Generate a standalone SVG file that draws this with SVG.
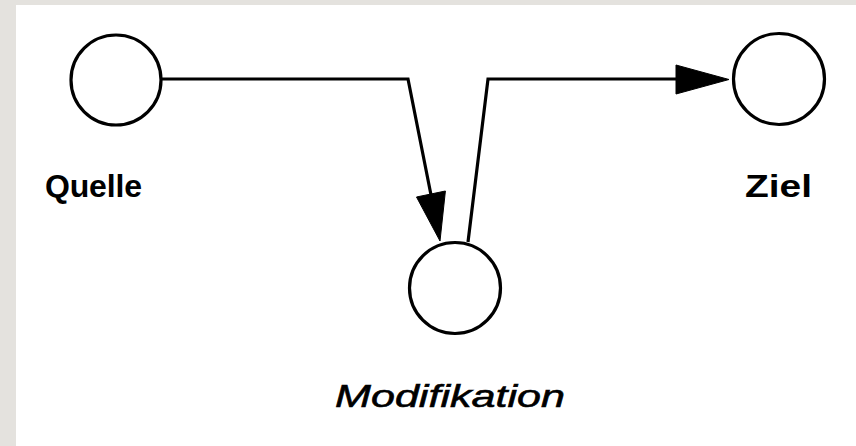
<svg xmlns="http://www.w3.org/2000/svg" width="856" height="446" viewBox="0 0 856 446">
  <style>
    .node circle { fill: #ffffff; stroke: #000000; stroke-width: 3.2; }
    .edge { fill: none; stroke: #000000; stroke-width: 3.2; stroke-linejoin: miter; }
    .head { fill: #000000; stroke: #000000; stroke-width: 1; }
    .lbl { font-family: "Liberation Sans", Arial, sans-serif; font-size: 32px; fill: #000000; }
    .b { font-weight: bold; }
    .i { font-style: italic; stroke: #000000; stroke-width: 0.6; }
  </style>
  <!-- page frame -->
  <rect x="0" y="0" width="856" height="446" fill="#e4e2de"/>
  <rect x="16" y="5" width="840" height="441" fill="#ffffff"/>

  <g id="connectors">
    <path class="edge" d="M162,79 L408,79 L432,200"/>
    <polygon class="head" points="440,241 445.4,191 416.5,197"/>
    <path class="edge" d="M468,242 L488,79 L690,79"/>
    <polygon class="head" points="729,79.5 676,65 676,94"/>
  </g>

  <g id="quelle" class="node">
    <circle cx="116" cy="80" r="45"/>
    <text class="lbl b" x="45" y="197" textLength="97" lengthAdjust="spacing">Quelle</text>
  </g>

  <g id="modifikation" class="node">
    <circle cx="455" cy="288" r="45.5"/>
    <text class="lbl i" x="335" y="407" font-size="37" textLength="230" lengthAdjust="spacingAndGlyphs">Modifikation</text>
  </g>

  <g id="ziel" class="node">
    <circle cx="779" cy="79" r="45.5"/>
    <text class="lbl b" x="745" y="197" font-size="34" textLength="67" lengthAdjust="spacingAndGlyphs">Ziel</text>
  </g>
</svg>
